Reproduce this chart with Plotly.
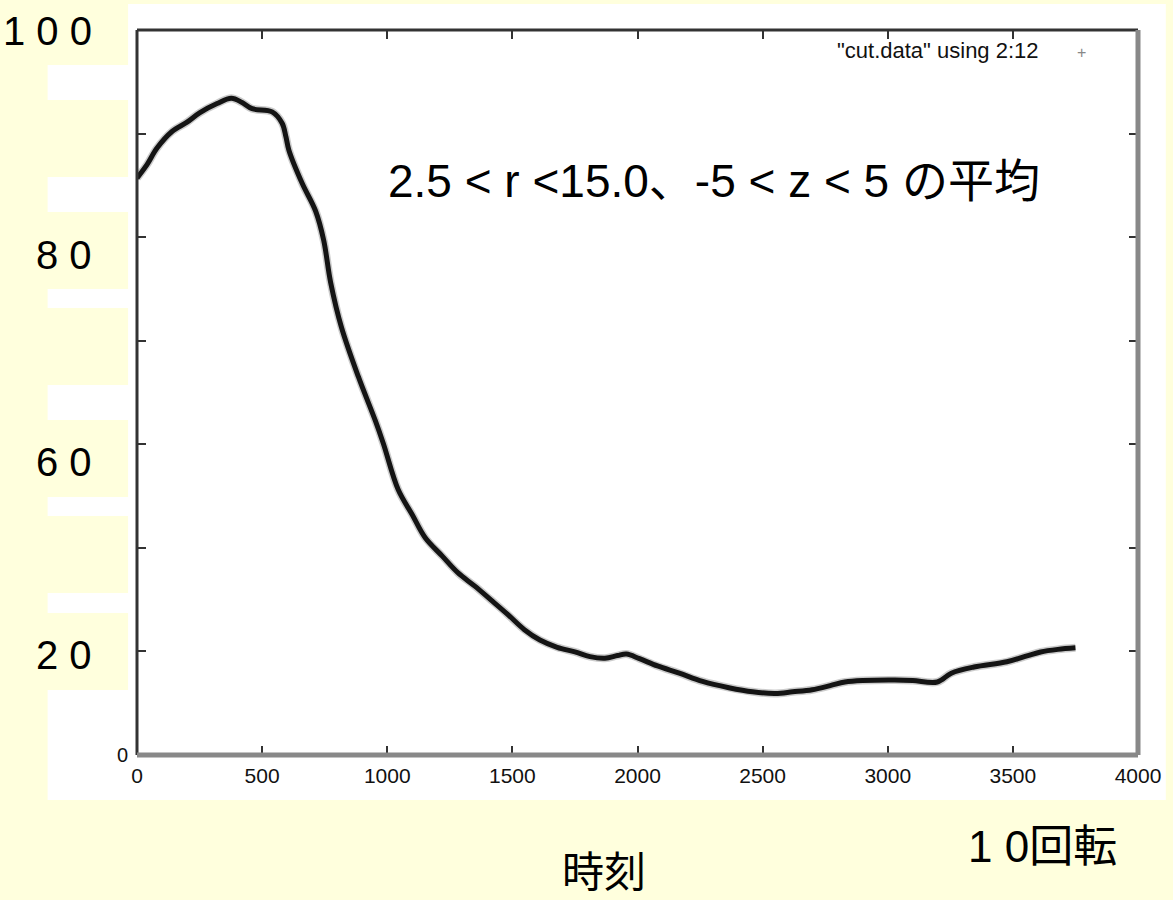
import plotly.graph_objects as go

# ---- data ----
x_vals = [0, 40, 80, 140, 200, 250, 320, 377, 420, 460, 540, 580, 595, 607, 660, 714, 746, 774,
          817, 885, 952, 984, 1044, 1100, 1151, 1220, 1282, 1350, 1413, 1480, 1548, 1610, 1679,
          1750, 1810, 1870, 1920, 1956, 2008, 2080, 2167, 2260, 2365, 2460, 2551, 2620, 2698,
          2770, 2829, 2900, 3028, 3100, 3198, 3254, 3345, 3476, 3560, 3611, 3680, 3750]
y_vals = [55.7, 57.0, 58.6, 60.2, 61.1, 62.0, 62.9, 63.4, 63.0, 62.4, 62.1, 61.0, 59.7, 58.4,
          55.2, 52.5, 49.7, 45.6, 41.3, 36.5, 32.3, 30.1, 25.6, 23.2, 21.0, 19.2, 17.6, 16.3,
          15.0, 13.6, 12.1, 11.1, 10.4, 9.95, 9.5, 9.35, 9.6, 9.75, 9.3, 8.6, 7.9, 7.1, 6.5,
          6.1, 5.95, 6.1, 6.3, 6.7, 7.05, 7.2, 7.25, 7.2, 7.05, 7.9, 8.5, 9.0, 9.6, 9.95,
          10.2, 10.35]
x_ticks = [0, 500, 1000, 1500, 2000, 2500, 3000, 3500, 4000]
x_tick_labels = ["0", "500", "1000", "1500", "2000", "2500", "3000", "3500", "4000"]
y_ticks = [0, 10, 20, 30, 40, 50, 60, 70]
y_tick_labels = ["0", "", "", "", "", "", "", ""]
overlay_labels = ["1 0 0", "8 0", "6 0", "2 0"]
legend_label = '"cut.data" using 2:12'
annotation_text = "2.5 < r <15.0、-5 < z < 5 の平均"
x_title = "時刻"
unit_text = "1 0回転"

# ---- geometry helpers (pixels -> paper) ----
W, H = 1173, 900
L, R, T, B = 137, 1145, 30, 755


def px(x):
    return (x - L) / (R - L)


def py(y):
    return (B - y) / (B - T)


YELLOW = "#FFFFDD"

fig = go.Figure()
fig.add_trace(go.Scatter(x=x_vals, y=y_vals, mode="lines",
                         line=dict(color="rgba(0,0,0,0.2)", width=8, shape="spline"),
                         hoverinfo="skip", showlegend=False))
fig.add_trace(go.Scatter(x=x_vals, y=y_vals, mode="lines", name=legend_label,
                         line=dict(color="#141414", width=5, shape="spline"),
                         showlegend=False))

shapes = []
# white image background
shapes.append(dict(type="rect", xref="paper", yref="paper", x0=px(47), x1=px(1173),
                   y0=py(4), y1=py(800), fillcolor="white", line=dict(width=0), layer="below"))
# frame
shapes.append(dict(type="line", xref="paper", yref="paper", x0=px(L), x1=px(L), y0=py(T), y1=py(B),
                   line=dict(color="#333333", width=3)))
shapes.append(dict(type="line", xref="paper", yref="paper", x0=px(L), x1=px(R), y0=py(T), y1=py(T),
                   line=dict(color="#333333", width=3)))
shapes.append(dict(type="line", xref="paper", yref="paper", x0=px(L), x1=px(R), y0=py(B), y1=py(B),
                   line=dict(color="#888888", width=5)))
shapes.append(dict(type="line", xref="paper", yref="paper", x0=px(R), x1=px(R), y0=py(T), y1=py(B),
                   line=dict(color="#888888", width=5)))
# yellow label boxes on the left
for (a, b) in [(0, 65), (100, 177), (212, 289), (308, 385), (420, 497), (516, 593), (613, 690)]:
    shapes.append(dict(type="rect", xref="paper", yref="paper", x0=px(0), x1=px(128),
                       y0=py(a), y1=py(b), fillcolor=YELLOW, line=dict(width=0), layer="above"))

annotations = []
annotations.append(dict(text=annotation_text, xref="paper", yref="paper", x=px(388), y=py(181),
                        xanchor="left", yanchor="middle", showarrow=False,
                        font=dict(family="Liberation Sans, Arial, Noto Sans CJK JP", size=46, color="black")))
annotations.append(dict(text=legend_label, xref="paper", yref="paper", x=px(1047), y=py(50),
                        xanchor="right", yanchor="middle", showarrow=False,
                        font=dict(family="Liberation Sans, Arial", size=22, color="#111111")))
annotations.append(dict(text="+", xref="paper", yref="paper", x=px(1088), y=py(52),
                        xanchor="center", yanchor="middle", showarrow=False,
                        font=dict(family="Liberation Sans, Arial", size=16, color="#888888")))
for lab, yc in zip(overlay_labels, [31, 255, 462, 655]):
    annotations.append(dict(text=lab, xref="paper", yref="paper", x=px(94), y=py(yc),
                            xanchor="right", yanchor="middle", showarrow=False,
                            font=dict(family="Liberation Sans, Arial, sans-serif",
                                      size=40, color="black")))
annotations.append(dict(text=unit_text, xref="paper", yref="paper", x=px(972), y=py(847),
                        xanchor="left", yanchor="middle", showarrow=False,
                        font=dict(family="Liberation Sans, Noto Sans CJK JP", size=44, color="black")))
annotations.append(dict(text=x_title, xref="paper", yref="paper", x=px(607), y=py(868),
                        xanchor="center", yanchor="middle", showarrow=False,
                        font=dict(family="Noto Sans CJK JP", size=42, color="black")))

fig.update_layout(
    width=W, height=H,
    margin=dict(l=L, r=W - R, t=T, b=H - B, pad=0),
    paper_bgcolor=YELLOW, plot_bgcolor="white",
    shapes=shapes, annotations=annotations, showlegend=False,
    xaxis=dict(range=[0, 4000], tickmode="array", tickvals=x_ticks, ticktext=x_tick_labels,
               ticks="inside", ticklen=9, tickwidth=2, tickcolor="#333333", mirror="ticks",
               showline=False, showgrid=False, zeroline=False, ticklabelstandoff=6,
               tickfont=dict(family="Liberation Sans, Arial", size=21, color="#111111")),
    yaxis=dict(range=[0, 70], tickmode="array", tickvals=y_ticks, ticktext=y_tick_labels,
               ticks="inside", ticklen=9, tickwidth=2, tickcolor="#333333", mirror="ticks",
               showline=False, showgrid=False, zeroline=False, ticklabelstandoff=8,
               tickfont=dict(family="Liberation Sans, Arial", size=20, color="#111111")),
)

fig.write_html("out.html")
